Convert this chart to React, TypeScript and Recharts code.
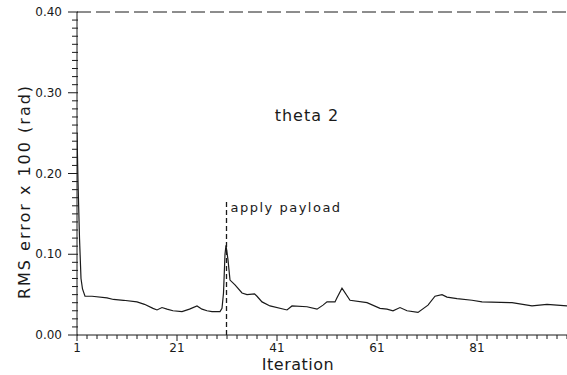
import {
  LineChart,
  Line,
  XAxis,
  YAxis,
  ReferenceLine,
  ReferenceDot,
} from 'recharts';

// iteration number (x) and RMS error x 100 in rad (y)
const ITERATIONS = [
  1, 1.2, 1.5, 1.8, 2.1, 2.6, 4, 7, 8.3, 10.3, 13, 14.5, 16.2, 17, 18, 19,
  20.2, 22, 23.5, 25, 26, 27, 28, 29.6, 30, 30.3, 30.6, 30.8, 31.2, 31.6,
  32.6, 34, 35, 36.5, 37, 38, 39.6, 43, 44, 47, 49, 50.2, 51, 52.6, 53, 54,
  55.6, 59, 61.6, 63, 64.2, 65.6, 67, 69.2, 71.2, 72.6, 74, 75, 77, 80, 82,
  88, 92, 95, 99,
];
const RMS_ERROR = [
  0.25, 0.19, 0.12, 0.07, 0.057, 0.048, 0.048, 0.046, 0.044, 0.043, 0.041,
  0.038, 0.033, 0.031, 0.034, 0.032, 0.030, 0.029, 0.032, 0.036, 0.032,
  0.030, 0.029, 0.029, 0.033, 0.052, 0.1, 0.111, 0.093, 0.068, 0.062, 0.052,
  0.05, 0.051, 0.048, 0.041, 0.036, 0.031, 0.036, 0.035, 0.032, 0.037, 0.041,
  0.041, 0.046, 0.058, 0.043, 0.04, 0.033, 0.032, 0.03, 0.034, 0.03, 0.028,
  0.037, 0.048, 0.05, 0.047, 0.045, 0.043, 0.041, 0.04, 0.036, 0.038, 0.036,
];

const X_TICKS = Array.from({ length: 50 }, (_, i) => 1 + i * 2);
const X_LABELS = [1, 21, 41, 61, 81];
const Y_TICKS = Array.from({ length: 41 }, (_, i) => i / 100);
const Y_LABELS = [0, 0.1, 0.2, 0.3, 0.4];

const PAYLOAD_ITER = 30.9;
const PAYLOAD_TOP = 0.167;

const data = ITERATIONS.map((it, i) => ({ iteration: it, rms: RMS_ERROR[i] }));

const FONT = '"DejaVu Sans", sans-serif';
const INK = '#1a1a1a';

const YTick = ({ x, y, payload }: any) => {
  const v = payload.value;
  const major = Y_LABELS.some((m) => Math.abs(m - v) < 1e-6);
  return (
    <g>
      <line x1={x - (major ? 9 : 5)} x2={x + 1} y1={y} y2={y} stroke={INK} />
      {major && (
        <text
          x={x - 15}
          y={y}
          textAnchor="end"
          dominantBaseline="central"
          fontSize={12}
          fontFamily={FONT}
          fill={INK}
        >
          {v.toFixed(2)}
        </text>
      )}
    </g>
  );
};

const XTick = ({ x, y, payload }: any) => {
  const v = payload.value;
  const major = X_LABELS.includes(v);
  return (
    <g>
      <line x1={x} x2={x} y1={y} y2={y + (major ? 6 : 4)} stroke={INK} />
      {major && (
        <text
          x={x}
          y={y + 17}
          textAnchor="middle"
          fontSize={12}
          fontFamily={FONT}
          fill={INK}
        >
          {v}
        </text>
      )}
    </g>
  );
};

export default function App() {
  return (
    <div style={{ position: 'absolute', left: 0, top: 0, background: '#fff' }}>
      <LineChart
        width={567}
        height={375}
        data={data}
        margin={{ top: 12, right: 0, bottom: 0, left: 0 }}
      >
        <XAxis
          dataKey="iteration"
          type="number"
          domain={[1, 99]}
          ticks={X_TICKS}
          interval={0}
          height={40}
          tickSize={0}
          tickMargin={0}
          tickLine={false}
          tick={XTick}
          axisLine={{ stroke: INK }}
          allowDataOverflow
          label={(props: any) => {
            const vb = props.viewBox;
            return (
              <text
                x={vb.x + vb.width / 2 - 24}
                y={vb.y + 35}
                textAnchor="middle"
                fontSize={16}
                fontFamily={FONT}
                fill={INK}
                letterSpacing={0.5}
              >
                Iteration
              </text>
            );
          }}
        />
        <YAxis
          type="number"
          domain={[0, 0.4]}
          ticks={Y_TICKS}
          interval={0}
          width={77}
          tickSize={0}
          tickMargin={0}
          tickLine={false}
          tick={YTick}
          axisLine={{ stroke: INK }}
          allowDataOverflow
          label={(props: any) => {
            const vb = props.viewBox;
            const cx = vb.x + 24;
            const cy = vb.y + vb.height / 2 + 18;
            return (
              <text
                x={cx}
                y={cy}
                transform={`rotate(-90, ${cx}, ${cy})`}
                textAnchor="middle"
                dominantBaseline="central"
                fontSize={16}
                fontFamily={FONT}
                fill={INK}
                letterSpacing={2}
              >
                RMS error x 100 (rad)
              </text>
            );
          }}
        />
        <ReferenceLine
          y={0.4}
          stroke={INK}
          strokeDasharray="14 5"
          ifOverflow="visible"
        />
        <ReferenceLine
          segment={[
            { x: PAYLOAD_ITER, y: 0 },
            { x: PAYLOAD_ITER, y: PAYLOAD_TOP },
          ]}
          stroke={INK}
          strokeWidth={1.3}
          strokeDasharray="5 3"
          label={(props: any) => {
            const vb = props.viewBox;
            return (
              <text
                x={vb.x + 4}
                y={vb.y + 7}
                fontSize={13}
                fontFamily={FONT}
                fill={INK}
                letterSpacing={1.5}
                dominantBaseline="central"
              >
                apply payload
              </text>
            );
          }}
        />
        <ReferenceDot
          x={47}
          y={0.272}
          r={0}
          fill="none"
          stroke="none"
          label={{
            value: 'theta  2',
            position: 'center',
            fontSize: 16,
            fontFamily: FONT,
            fill: INK,
            letterSpacing: 1,
          }}
        />
        <Line
          type="linear"
          dataKey="rms"
          stroke={INK}
          strokeWidth={1.2}
          dot={false}
          isAnimationActive={false}
        />
      </LineChart>
    </div>
  );
}
